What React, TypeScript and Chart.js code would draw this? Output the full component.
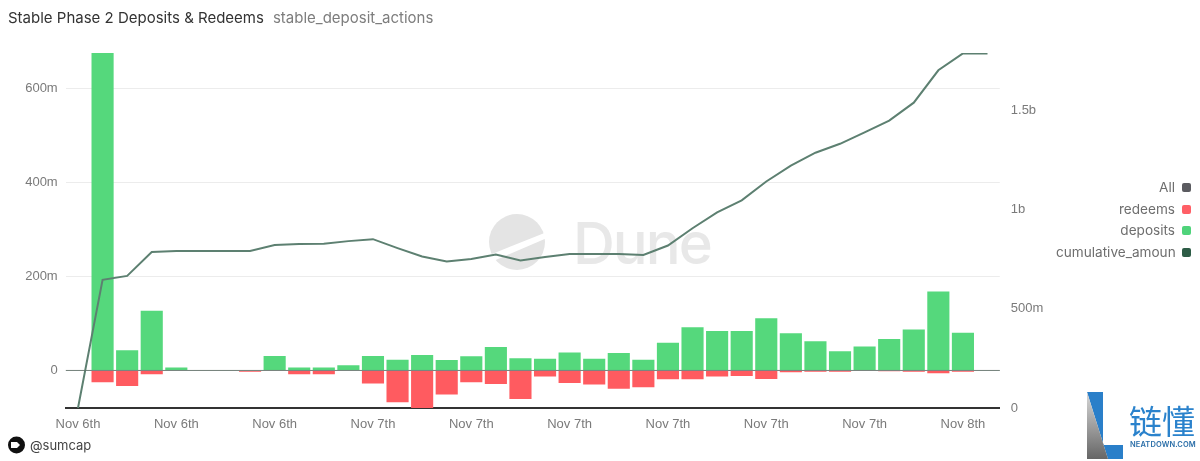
import React, { useEffect, useRef } from "react";
import { Chart, registerables } from "chart.js";

Chart.register(...registerables);

const categories = [
  "Nov 6th","Nov 6th","Nov 6th","Nov 6th","Nov 6th","Nov 6th","Nov 6th","Nov 6th","Nov 6th","Nov 6th","Nov 6th","Nov 6th",
  "Nov 7th","Nov 7th","Nov 7th","Nov 7th","Nov 7th","Nov 7th","Nov 7th","Nov 7th","Nov 7th","Nov 7th","Nov 7th","Nov 7th",
  "Nov 7th","Nov 7th","Nov 7th","Nov 7th","Nov 7th","Nov 7th","Nov 7th","Nov 7th","Nov 7th","Nov 7th","Nov 7th","Nov 7th",
  "Nov 8th","Nov 8th",
];
const deposits = [0,677,43,127,6,1,0,1,31,6.5,6,11,31,23,33,22,30,50,26,25,38,25,37,23,59,92,84,84,111,79,62,41,51,67,87,168,80,0];
const redeems = [0,-25,-33,-8,0,0,0,-3,0,-8,-8,-1,-28,-68,-85,-51,-25,-29,-61,-13,-27,-30,-39,-36,-19,-19,-13,-12,-18,-4,-3,-3,-1,-2,-3,-6,-3,0];
const cumulative = [0,645,665,785,790,790,790,790,820,825,827,840,850,805,763,737,750,773,743,760,775,775,775,770,818,905,985,1045,1140,1220,1285,1330,1387,1447,1537,1700,1785,1785];
const leftTicks = [0, 200, 400, 600];
const rightTicks = [0, 500, 1000, 1500];
const legendItems = [
  { label: "All", color: "#5b5b60" },
  { label: "redeems", color: "#ff5f66" },
  { label: "deposits", color: "#4fd37a" },
  { label: "cumulative_amount", color: "#2d5c46" },
];

const fmt = (v: number) => (v >= 1000 ? `${v / 1000}b` : v === 0 ? "0" : `${v}m`);
const tickFont = { family: "'Liberation Sans', Arial, sans-serif", size: 13 };

const zeroLine = {
  id: "zeroLine",
  afterDatasetsDraw(chart: any) {
    const { ctx, chartArea, scales } = chart;
    const y = scales.y.getPixelForValue(0);
    ctx.save();
    ctx.strokeStyle = "rgba(90,110,100,0.55)";
    ctx.lineWidth = 1;
    ctx.beginPath();
    ctx.moveTo(chartArea.left, y);
    ctx.lineTo(chartArea.right, y);
    ctx.stroke();
    ctx.restore();
  },
};

export default function App() {
  const ref = useRef<HTMLCanvasElement>(null);
  useEffect(() => {
    document.body.style.margin = "0";
    const chart = new Chart(ref.current!, {
      type: "bar",
      data: {
        labels: categories,
        datasets: [
          { type: "line", label: "cumulative_amount", data: cumulative, yAxisID: "y2", borderColor: "#5d8071", borderWidth: 2, pointRadius: 0, tension: 0, order: 0 },
          { type: "bar", label: "deposits", data: deposits, yAxisID: "y", backgroundColor: "#55d87c", borderWidth: 0, stack: "s", order: 1, barPercentage: 0.9, categoryPercentage: 1 },
          { type: "bar", label: "redeems", data: redeems, yAxisID: "y", backgroundColor: "#ff5b60", borderWidth: 0, stack: "s", order: 2, barPercentage: 0.9, categoryPercentage: 1 },
        ],
      } as any,
      plugins: [zeroLine],
      options: {
        animation: false,
        responsive: false,
        layout: { padding: { top: 53, left: 0, right: 0, bottom: 0 } },
        plugins: { legend: { display: false }, title: { display: false }, tooltip: { enabled: false } },
        scales: {
          x: {
            stacked: true,
            offset: true,
            grid: { display: false },
            border: { color: "#333", width: 2 },
            ticks: {
              autoSkip: false, maxRotation: 0, minRotation: 0, color: "#7a7a7a", font: tickFont, padding: 1,
              callback: (_v: any, i: number) => (i % 4 === 0 ? categories[i] : ""),
            },
            afterFit: (s: any) => { s.height = 53; },
          },
          y: {
            stacked: true,
            position: "left",
            min: -80,
            max: 676,
            afterBuildTicks: (s: any) => { s.ticks = leftTicks.map((value) => ({ value })); },
            afterFit: (s: any) => { s.width = 65.7; },
            grid: {
              drawTicks: false,
              color: (c: any) => (c.tick && c.tick.value === 0 ? "#9a9f9c" : "#ececec"),
            },
            border: { display: false },
            ticks: { color: "#7a7a7a", font: tickFont, padding: 8, callback: (v: any) => fmt(Number(v)) },
          },
          y2: {
            position: "right",
            min: 0,
            max: 1787,
            afterBuildTicks: (s: any) => { s.ticks = rightTicks.map((value) => ({ value })); },
            afterFit: (s: any) => { s.width = 200.2; },
            grid: { display: false, drawTicks: false },
            border: { display: false },
            ticks: { color: "#7a7a7a", font: tickFont, padding: 11, callback: (v: any) => fmt(Number(v)) },
          },
        },
      } as any,
    });
    return () => chart.destroy();
  }, []);

  return (
    <div style={{ position: "relative", width: 1200, height: 461, overflow: "hidden", background: "#fff", fontFamily: "Inter, sans-serif" }}>
      <svg width={1200} height={461} style={{ position: "absolute", left: 0, top: 0 }}>
        <defs>
          <linearGradient id="lg" x1="0" y1="0" x2="0" y2="1">
            <stop offset="0" stopColor="#d8d8d8" />
            <stop offset="1" stopColor="#666" />
          </linearGradient>
        </defs>
        <circle cx={517} cy={242} r={28} fill="#e4e4e4" />
        <path d="M487 256 L547 232 L547 238 L491 262 Z" fill="#fff" />
        <text x={573} y={264} fontFamily="Inter, sans-serif" fontSize={58} fontWeight={500} letterSpacing={-2} fill="#e8e8e8">Dune</text>
        <circle cx={16.5} cy={445} r={8.5} fill="#111" />
        <path d="M11 442 L17 442 L20 445 L17 448 L11 448 Z" fill="#fff" />
        <polygon points="1087,392 1103,392 1103,445 1123,445 1123,459 1108,459" fill="#2a7fc9" />
        <polygon points="1087,392 1108,459 1087,459" fill="url(#lg)" />
      </svg>
      <canvas ref={ref} width={1200} height={461} style={{ position: "absolute", left: 0, top: 0, display: "block" }} />
      <div style={{ position: "absolute", left: 8, top: 9, fontSize: 15, lineHeight: "18px", color: "#333", whiteSpace: "nowrap" }}>
        Stable Phase 2 Deposits &amp; Redeems
        <span style={{ color: "#7d7d7d", marginLeft: 9 }}>stable_deposit_actions</span>
      </div>
      {legendItems.map((it, i) => (
        <div key={it.label} style={{ position: "absolute", right: 9, top: 180 + i * 21.6, height: 15, display: "flex", alignItems: "center", gap: 7 }}>
          <div style={{ maxWidth: 119, overflow: "hidden", whiteSpace: "nowrap", fontSize: 13.6, color: "#6e6e6e", lineHeight: "15px" }}>{it.label}</div>
          <div style={{ width: 9, height: 9, borderRadius: 2, background: it.color }} />
        </div>
      ))}
      <div style={{ position: "absolute", left: 30, top: 437, fontSize: 13, lineHeight: "16px", color: "#444" }}>@sumcap</div>
      <div style={{ position: "absolute", left: 1129, top: 400, fontFamily: "'Noto Sans CJK SC', sans-serif", fontSize: 33, lineHeight: "40px", color: "#2a82cc", whiteSpace: "nowrap" }}>链懂</div>
      <div style={{ position: "absolute", left: 1130, top: 440, fontSize: 7.5, lineHeight: "10px", letterSpacing: 0.1, fontWeight: 600, color: "#2a6ea8", whiteSpace: "nowrap" }}>NEATDOWN.COM</div>
    </div>
  );
}
